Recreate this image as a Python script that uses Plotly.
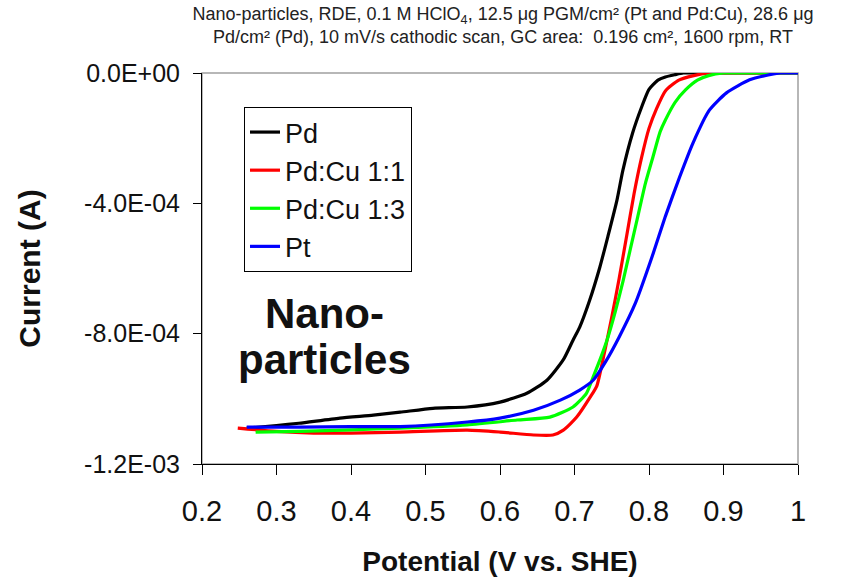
import plotly.graph_objects as go

# ---- data (current in units of 1e-4 A, potential in V vs SHE) ----
pd_x = [0.26, 0.30, 0.33, 0.385, 0.43, 0.466, 0.51, 0.556, 0.60, 0.636, 0.663, 0.685, 0.698,
        0.707, 0.720, 0.734, 0.745, 0.757, 0.765, 0.778, 0.790, 0.800, 0.812, 0.822, 0.835,
        0.846, 0.87, 0.90, 0.95, 1.0]
pd_y = [-10.9, -10.82, -10.75, -10.59, -10.5, -10.41, -10.29, -10.25, -10.1, -9.83, -9.43, -8.8,
        -8.2, -7.8, -7.0, -5.96, -5.0, -3.9, -2.98, -1.84, -1.05, -0.5, -0.22, -0.12, -0.05,
        0.0, 0.0, 0.0, 0.0, 0.0]

pdcu11_x = [0.248, 0.30, 0.35, 0.40, 0.466, 0.556, 0.60, 0.645, 0.671, 0.685, 0.703, 0.721,
            0.730, 0.740, 0.750, 0.760, 0.770, 0.780, 0.790, 0.800, 0.810, 0.822, 0.840,
            0.860, 0.880, 0.90, 0.95, 1.0]
pdcu11_y = [-10.9, -11.0, -11.05, -11.05, -11.02, -10.96, -11.02, -11.11, -11.11, -10.96,
            -10.56, -9.95, -9.6, -8.6, -7.5, -6.3, -5.0, -3.7, -2.6, -1.7, -1.1, -0.55, -0.22,
            -0.08, 0.0, 0.0, 0.0, 0.0]

pdcu13_x = [0.272, 0.331, 0.40, 0.466, 0.556, 0.623, 0.667, 0.698, 0.716, 0.725, 0.735, 0.745,
            0.755, 0.765, 0.775, 0.785, 0.795, 0.805, 0.815, 0.822, 0.835, 0.849, 0.865, 0.88,
            0.90, 0.95, 1.0]
pdcu13_y = [-11.02, -11.0, -10.95, -10.9, -10.8, -10.65, -10.56, -10.25, -9.83, -9.33, -8.75,
            -8.1, -7.3, -6.4, -5.4, -4.4, -3.4, -2.6, -1.8, -1.44, -0.9, -0.52, -0.22, -0.08,
            0.0, 0.0, 0.0]

pt_x = [0.26, 0.331, 0.40, 0.466, 0.556, 0.60, 0.645, 0.681, 0.707, 0.725, 0.742, 0.760,
        0.782, 0.804, 0.822, 0.841, 0.859, 0.881, 0.904, 0.935, 0.96, 0.976, 1.0]
pt_y = [-10.87, -10.87, -10.85, -10.85, -10.71, -10.59, -10.35, -10.04, -9.73, -9.43, -8.85,
        -8.1, -7.05, -5.65, -4.4, -3.2, -2.15, -1.14, -0.61, -0.21, -0.06, 0.0, 0.0]

series_names = ["Pd", "Pd:Cu 1:1", "Pd:Cu 1:3", "Pt"]
series_x = [pd_x, pdcu11_x, pdcu13_x, pt_x]
series_y = [pd_y, pdcu11_y, pdcu13_y, pt_y]
series_colors = ["#000000", "#ff0000", "#00ff00", "#0000ff"]
y_scale = 1e-4

x_ticks = [0.2, 0.3, 0.4, 0.5, 0.6, 0.7, 0.8, 0.9, 1.0]
x_ticktext = ["0.2", "0.3", "0.4", "0.5", "0.6", "0.7", "0.8", "0.9", "1"]
y_ticks = [0.0, -4e-4, -8e-4, -1.2e-3]
y_ticktext = ["0.0E+00", "-4.0E-04", "-8.0E-04", "-1.2E-03"]

title_text = ("Nano-particles, RDE, 0.1 M HClO<sub>4</sub>, 12.5 \u03bcg PGM/cm\u00b2 (Pt and Pd:Cu), 28.6 \u03bcg"
              "<br>Pd/cm\u00b2 (Pd), 10 mV/s cathodic scan, GC area:  0.196 cm\u00b2, 1600 rpm, RT")

FONT = "Arial, Liberation Sans, sans-serif"

fig = go.Figure()
for name, xs, ys, col in zip(series_names, series_x, series_y, series_colors):
    fig.add_trace(go.Scatter(
        x=xs, y=[v * y_scale for v in ys], mode="lines", name=name,
        line=dict(color=col, width=3.2, shape="spline", smoothing=0.6),
    ))

fig.update_layout(
    width=844, height=583,
    margin=dict(l=202, r=46, t=73, b=119),
    paper_bgcolor="white", plot_bgcolor="white",
    font=dict(family=FONT, color="#111"),
    title=dict(text=title_text, x=0.596, xanchor="center", y=0.966, yanchor="top",
               font=dict(size=18, color="#222", family=FONT)),
    showlegend=True,
    legend=dict(x=0.0705, y=0.913, xanchor="left", yanchor="top",
                bgcolor="white", bordercolor="black", borderwidth=1,
                font=dict(size=27, color="#111", family=FONT),
                tracegroupgap=0, itemwidth=30),
    xaxis=dict(range=[0.2, 1.0], tickvals=x_ticks, ticktext=x_ticktext,
               showgrid=False, zeroline=False, showline=True, linecolor="black", linewidth=1,
               ticks="outside", ticklen=10, tickcolor="black",
               tickfont=dict(size=29, color="#111", family=FONT), ticklabelstandoff=11,
               title=dict(text="<b>Potential (V vs. SHE)</b>", standoff=25,
                          font=dict(size=28, color="#111", family=FONT))),
    yaxis=dict(range=[-1.2e-3, 0], tickvals=y_ticks, ticktext=y_ticktext,
               showgrid=False, zeroline=False, showline=True, linecolor="black", linewidth=1,
               ticks="outside", ticklen=8, tickcolor="black",
               tickfont=dict(size=25, color="#111", family=FONT), ticklabelstandoff=8,
               title=dict(text="<b>Current (A)</b>", standoff=34,
                          font=dict(size=30, color="#111", family=FONT))),
    shapes=[dict(type="rect", xref="paper", yref="paper", x0=0, x1=1, y0=0, y1=1,
                 line=dict(color="#a0a0a0", width=1.5), layer="below")],
    annotations=[
        dict(text="<b>Nano-</b>", xref="paper", yref="paper",
             x=0.205, y=0.386, xanchor="center", yanchor="middle", showarrow=False,
             font=dict(size=42, color="#111", family=FONT)),
        dict(text="<b>particles</b>", xref="paper", yref="paper",
             x=0.205, y=0.268, xanchor="center", yanchor="middle", showarrow=False,
             font=dict(size=42, color="#111", family=FONT)),
    ],
)

fig.write_html("out.html", config={"displayModeBar": False},
               post_script="document.body.style.margin='0px';")
